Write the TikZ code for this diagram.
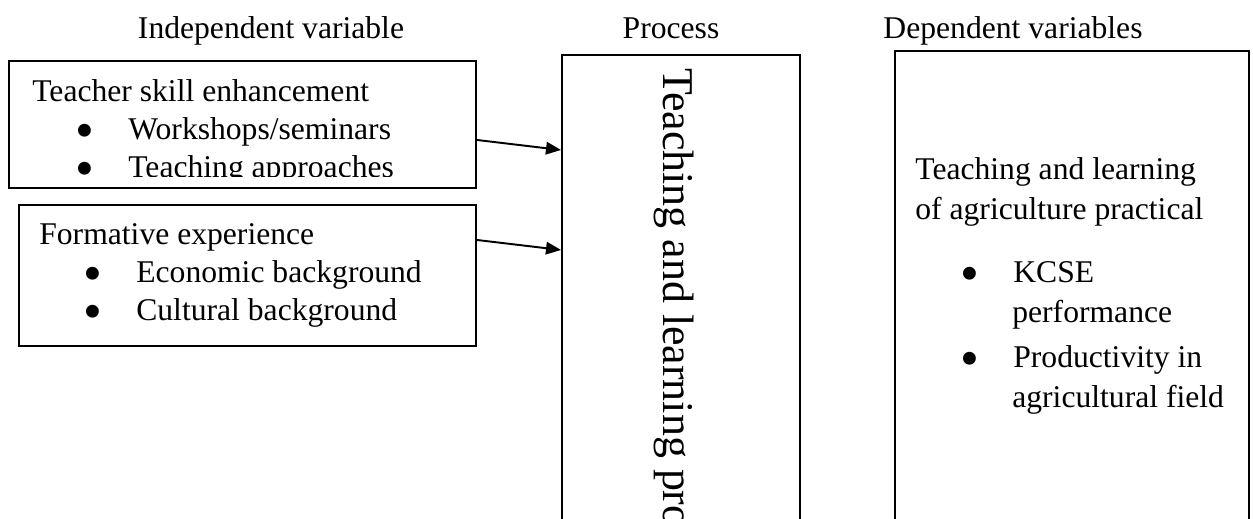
\documentclass[tikz,border=0pt]{standalone}
\usepackage{fontspec}
\usepackage{graphicx}
\setmainfont{Liberation Serif}
\usetikzlibrary{arrows.meta,positioning}

\newcommand{\bul}{\makebox[1.05cm][l]{\raisebox{-0.3em}{\scalebox{1.7}{\textbullet}}}}

\tikzset{
  varbox/.style={draw, line width=1.1pt, anchor=north west, inner sep=0pt},
  heading/.style={font=\fontsize{18pt}{21.6pt}\selectfont, anchor=base, inner sep=0pt},
  boxtext/.style={font=\fontsize{18pt}{21.6pt}\selectfont, align=left, anchor=base west, inner sep=0pt},
  link/.style={-{Triangle[length=0.3cm,width=0.25cm]}, line width=1.1pt}
}

\begin{document}
\begin{tikzpicture}[x=0.02cm, y=-0.02cm]
  \useasboundingbox (0,0) rectangle (1253,518);
  \clip (0,0) rectangle (1253,518);

  % headings
  \node[heading] (indep) at (271,38) {Independent variable};
  \node[heading] (proc) at (671,38) {Process};
  \node[heading] (dep) at (1013,38) {Dependent variables};

  % boxes
  \node[varbox, minimum width=9.34cm, minimum height=2.54cm] (skill) at (8,60) {};
  \node[varbox, minimum width=9.14cm, minimum height=2.82cm] (experience) at (18,204) {};
  \node[varbox, minimum width=4.76cm, minimum height=10cm] (process) at (561,54) {};
  \node[varbox, minimum width=7.08cm, minimum height=10cm] (outcome) at (894,50) {};

  % independent variables (base = last line)
  \begin{scope}
    \clip (8,60) rectangle (475,176);
    \node[boxtext] (skilltext) at (32,177) {Teacher skill enhancement\\
      \hspace*{0.87cm}\bul Workshops/seminars\\
      \hspace*{0.87cm}\bul Teaching approaches};
  \end{scope}
  \node[boxtext] (exptext) at (39,320) {Formative experience\\
    \hspace*{0.89cm}\bul Economic background\\
    \hspace*{0.89cm}\bul Cultural background};

  % process
  \node[font=\fontsize{25pt}{29pt}\selectfont, rotate=-90, anchor=base west, inner sep=0pt] (proctext) at (663,68) {Teaching and learning process};

  % dependent variables
  \node[boxtext, font=\fontsize{18pt}{22.7pt}\selectfont] (outtext) at (915,407) {Teaching and learning\\
    of agriculture practical\\[0.46cm]
    \hspace*{0.91cm}\bul KCSE\\
    \hspace*{1.94cm}performance\\[0.1cm]
    \hspace*{0.91cm}\bul Productivity in\\
    \hspace*{1.94cm}agricultural field};

  \draw[link] ([yshift=-0.31cm]skill.east) -- ([yshift=-1.92cm]process.north west);
  \draw[link] ([yshift=0.71cm]experience.east) -- ([yshift=-3.92cm]process.north west);
\end{tikzpicture}
\end{document}
